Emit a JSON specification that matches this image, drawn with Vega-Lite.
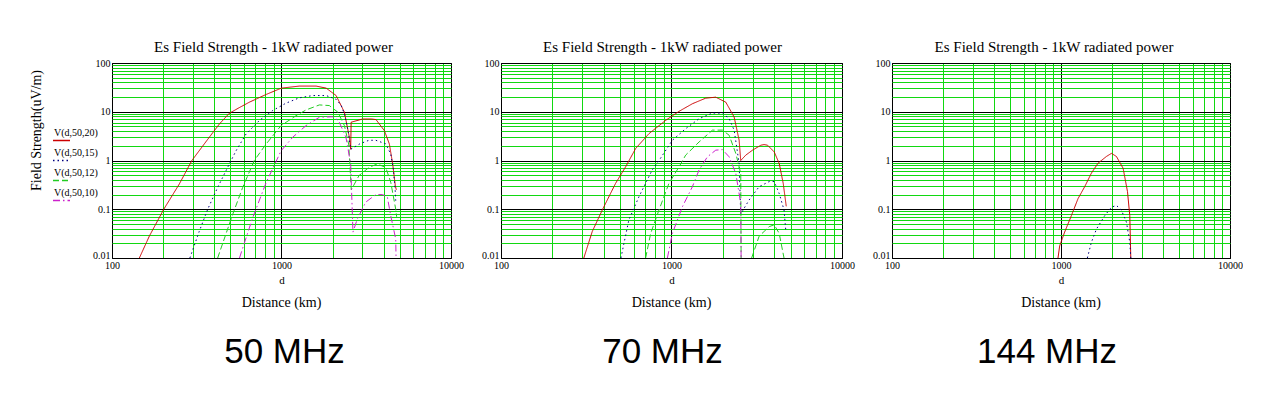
{
  "$schema": "https://vega.github.io/schema/vega-lite/v6.json",
  "background": "white",
  "autosize": "pad",
  "padding": {"left": 28, "top": 39, "right": 0, "bottom": 0},
  "datasets": {
    "p50": [
      {"h":20,"lobe":1,"d":145,"v":0.01},{"h":20,"lobe":1,"d":166,"v":0.028},{"h":20,"lobe":1,"d":202,"v":0.1},{"h":20,"lobe":1,"d":249,"v":0.325},{"h":20,"lobe":1,"d":296,"v":1.0},{"h":20,"lobe":1,"d":375,"v":3.0},{"h":20,"lobe":1,"d":430,"v":5.6},{"h":20,"lobe":1,"d":492,"v":9.3},{"h":20,"lobe":1,"d":560,"v":12},{"h":20,"lobe":1,"d":646,"v":15.7},{"h":20,"lobe":1,"d":811,"v":22.6},{"h":20,"lobe":1,"d":998,"v":30.5},{"h":20,"lobe":1,"d":1273,"v":33.6},{"h":20,"lobe":1,"d":1600,"v":33.6},{"h":20,"lobe":1,"d":1835,"v":30.5},{"h":20,"lobe":1,"d":2100,"v":21.5},{"h":20,"lobe":1,"d":2350,"v":9.8},{"h":20,"lobe":1,"d":2513,"v":3.0},{"h":20,"lobe":1,"d":2560,"v":1.7},{"h":20,"lobe":1,"d":2575,"v":6.1},{"h":20,"lobe":1,"d":3012,"v":7.1},{"h":20,"lobe":1,"d":3400,"v":7.1},{"h":20,"lobe":1,"d":3611,"v":6.9},{"h":20,"lobe":1,"d":4045,"v":4.1},{"h":20,"lobe":1,"d":4330,"v":2.17},{"h":20,"lobe":1,"d":4530,"v":0.84},{"h":20,"lobe":1,"d":4695,"v":0.3},{"h":20,"lobe":1,"d":4760,"v":0.25},
      {"h":15,"lobe":1,"d":288,"v":0.01},{"h":15,"lobe":1,"d":327,"v":0.035},{"h":15,"lobe":1,"d":367,"v":0.1},{"h":15,"lobe":1,"d":420,"v":0.28},{"h":15,"lobe":1,"d":481,"v":0.72},{"h":15,"lobe":1,"d":539,"v":1.58},{"h":15,"lobe":1,"d":618,"v":3.5},{"h":15,"lobe":1,"d":740,"v":6.6},{"h":15,"lobe":1,"d":887,"v":10.6},{"h":15,"lobe":1,"d":1063,"v":15},{"h":15,"lobe":1,"d":1274,"v":19.3},{"h":15,"lobe":1,"d":1528,"v":21.5},{"h":15,"lobe":1,"d":1835,"v":21.5},{"h":15,"lobe":1,"d":2100,"v":18},{"h":15,"lobe":1,"d":2250,"v":13.5},{"h":15,"lobe":1,"d":2350,"v":9},{"h":15,"lobe":1,"d":2470,"v":4.1},{"h":15,"lobe":1,"d":2560,"v":1.7},{"h":15,"lobe":1,"d":2630,"v":1.8},{"h":15,"lobe":1,"d":2900,"v":2.2},{"h":15,"lobe":1,"d":3280,"v":2.6},{"h":15,"lobe":1,"d":3600,"v":2.6},{"h":15,"lobe":1,"d":4120,"v":2.2},{"h":15,"lobe":1,"d":4410,"v":1.36},{"h":15,"lobe":1,"d":4570,"v":0.67},{"h":15,"lobe":1,"d":4680,"v":0.26},{"h":15,"lobe":1,"d":4720,"v":0.15},
      {"h":12,"lobe":1,"d":420,"v":0.01},{"h":12,"lobe":1,"d":515,"v":0.078},{"h":12,"lobe":1,"d":590,"v":0.28},{"h":12,"lobe":1,"d":691,"v":1.0},{"h":12,"lobe":1,"d":811,"v":2.17},{"h":12,"lobe":1,"d":994,"v":5.2},{"h":12,"lobe":1,"d":1218,"v":8.3},{"h":12,"lobe":1,"d":1396,"v":10.9},{"h":12,"lobe":1,"d":1673,"v":13.8},{"h":12,"lobe":1,"d":1915,"v":13.4},{"h":12,"lobe":1,"d":2150,"v":9.8},{"h":12,"lobe":1,"d":2350,"v":5.2},{"h":12,"lobe":1,"d":2490,"v":2.17},{"h":12,"lobe":1,"d":2525,"v":1.0},{"h":12,"lobe":1,"d":2580,"v":0.25},{"h":12,"lobe":1,"d":2866,"v":0.49},{"h":12,"lobe":1,"d":3281,"v":0.72},{"h":12,"lobe":1,"d":3673,"v":0.85},{"h":12,"lobe":1,"d":4120,"v":0.72},{"h":12,"lobe":1,"d":4410,"v":0.36},{"h":12,"lobe":1,"d":4720,"v":0.1},{"h":12,"lobe":1,"d":4780,"v":0.07},
      {"h":10,"lobe":1,"d":565,"v":0.01},{"h":10,"lobe":1,"d":676,"v":0.067},{"h":10,"lobe":1,"d":811,"v":0.35},{"h":10,"lobe":1,"d":994,"v":1.58},{"h":10,"lobe":1,"d":1164,"v":3.0},{"h":10,"lobe":1,"d":1396,"v":5.2},{"h":10,"lobe":1,"d":1673,"v":7.7},{"h":10,"lobe":1,"d":1995,"v":7.9},{"h":10,"lobe":1,"d":2170,"v":6.6},{"h":10,"lobe":1,"d":2400,"v":3.0},{"h":10,"lobe":1,"d":2560,"v":0.84},{"h":10,"lobe":1,"d":2640,"v":0.034},{"h":10,"lobe":1,"d":2800,"v":0.063},{"h":10,"lobe":1,"d":3140,"v":0.14},{"h":10,"lobe":1,"d":3600,"v":0.2},{"h":10,"lobe":1,"d":3940,"v":0.2},{"h":10,"lobe":1,"d":4210,"v":0.18},{"h":10,"lobe":1,"d":4410,"v":0.074},{"h":10,"lobe":1,"d":4720,"v":0.0245},{"h":10,"lobe":1,"d":4740,"v":0.01}
    ],
    "p70": [
      {"h":20,"lobe":1,"d":306,"v":0.01},{"h":20,"lobe":1,"d":343,"v":0.035},{"h":20,"lobe":1,"d":393,"v":0.097},{"h":20,"lobe":1,"d":470,"v":0.34},{"h":20,"lobe":1,"d":538,"v":0.74},{"h":20,"lobe":1,"d":616,"v":1.76},{"h":20,"lobe":1,"d":738,"v":3.56},{"h":20,"lobe":1,"d":924,"v":6.65},{"h":20,"lobe":1,"d":1107,"v":10.2},{"h":20,"lobe":1,"d":1326,"v":14.6},{"h":20,"lobe":1,"d":1587,"v":19},{"h":20,"lobe":1,"d":1818,"v":19.9},{"h":20,"lobe":1,"d":2082,"v":15.7},{"h":20,"lobe":1,"d":2330,"v":7.8},{"h":20,"lobe":1,"d":2493,"v":2.6},{"h":20,"lobe":1,"d":2547,"v":1.0},{"h":20,"lobe":1,"d":2728,"v":1.29},{"h":20,"lobe":1,"d":2987,"v":1.63},{"h":20,"lobe":1,"d":3344,"v":2.06},{"h":20,"lobe":1,"d":3490,"v":2.12},{"h":20,"lobe":1,"d":3659,"v":2.06},{"h":20,"lobe":1,"d":4003,"v":1.5},{"h":20,"lobe":1,"d":4282,"v":0.87},{"h":20,"lobe":1,"d":4521,"v":0.34},{"h":20,"lobe":1,"d":4688,"v":0.13},{"h":20,"lobe":1,"d":4710,"v":0.115},
      {"h":15,"lobe":1,"d":505,"v":0.01},{"h":15,"lobe":1,"d":562,"v":0.06},{"h":15,"lobe":1,"d":644,"v":0.18},{"h":15,"lobe":1,"d":771,"v":0.64},{"h":15,"lobe":1,"d":845,"v":1.0},{"h":15,"lobe":1,"d":1012,"v":2.6},{"h":15,"lobe":1,"d":1211,"v":4.5},{"h":15,"lobe":1,"d":1451,"v":7.2},{"h":15,"lobe":1,"d":1739,"v":9.4},{"h":15,"lobe":1,"d":1990,"v":9.4},{"h":15,"lobe":1,"d":2178,"v":7.2},{"h":15,"lobe":1,"d":2330,"v":4.2},{"h":15,"lobe":1,"d":2493,"v":0.87},{"h":15,"lobe":1,"d":2547,"v":0.08},{"h":15,"lobe":1,"d":2852,"v":0.155},{"h":15,"lobe":1,"d":3266,"v":0.29},{"h":15,"lobe":1,"d":3741,"v":0.37},{"h":15,"lobe":1,"d":4003,"v":0.37},{"h":15,"lobe":1,"d":4282,"v":0.21},{"h":15,"lobe":1,"d":4570,"v":0.097},{"h":15,"lobe":1,"d":4680,"v":0.037},
      {"h":12,"lobe":1,"d":705,"v":0.01},{"h":12,"lobe":1,"d":755,"v":0.032},{"h":12,"lobe":1,"d":845,"v":0.097},{"h":12,"lobe":1,"d":966,"v":0.34},{"h":12,"lobe":1,"d":1107,"v":0.74},{"h":12,"lobe":1,"d":1211,"v":1.29},{"h":12,"lobe":1,"d":1451,"v":2.4},{"h":12,"lobe":1,"d":1739,"v":4.2},{"h":12,"lobe":1,"d":1990,"v":4.2},{"h":12,"lobe":1,"d":2178,"v":3.3},{"h":12,"lobe":1,"d":2384,"v":1.39},{"h":12,"lobe":1,"d":2548,"v":0.54},{"h":12,"lobe":1,"d":2560,"v":0.01},
      {"h":12,"lobe":2,"d":2951,"v":0.01},{"h":12,"lobe":2,"d":3266,"v":0.028},{"h":12,"lobe":2,"d":3741,"v":0.044},{"h":12,"lobe":2,"d":4003,"v":0.048},{"h":12,"lobe":2,"d":4282,"v":0.032},{"h":12,"lobe":2,"d":4570,"v":0.01},
      {"h":10,"lobe":1,"d":946,"v":0.01},{"h":10,"lobe":1,"d":1012,"v":0.032},{"h":10,"lobe":1,"d":1159,"v":0.113},{"h":10,"lobe":1,"d":1326,"v":0.29},{"h":10,"lobe":1,"d":1451,"v":0.64},{"h":10,"lobe":1,"d":1624,"v":1.19},{"h":10,"lobe":1,"d":1818,"v":1.63},{"h":10,"lobe":1,"d":1990,"v":1.67},{"h":10,"lobe":1,"d":2178,"v":1.19},{"h":10,"lobe":1,"d":2384,"v":0.54},{"h":10,"lobe":1,"d":2548,"v":0.13},{"h":10,"lobe":1,"d":2560,"v":0.01}
    ],
    "p144": [
      {"h":20,"lobe":1,"d":960,"v":0.01},{"h":20,"lobe":1,"d":982,"v":0.0177},{"h":20,"lobe":1,"d":1051,"v":0.034},{"h":20,"lobe":1,"d":1152,"v":0.074},{"h":20,"lobe":1,"d":1261,"v":0.165},{"h":20,"lobe":1,"d":1381,"v":0.29},{"h":20,"lobe":1,"d":1513,"v":0.55},{"h":20,"lobe":1,"d":1656,"v":0.88},{"h":20,"lobe":1,"d":1857,"v":1.21},{"h":20,"lobe":1,"d":1988,"v":1.4},{"h":20,"lobe":1,"d":2128,"v":1.21},{"h":20,"lobe":1,"d":2332,"v":0.69},{"h":20,"lobe":1,"d":2474,"v":0.23},{"h":20,"lobe":1,"d":2553,"v":0.074},{"h":20,"lobe":1,"d":2588,"v":0.01},
      {"h":15,"lobe":1,"d":1432,"v":0.01},{"h":15,"lobe":1,"d":1513,"v":0.021},{"h":15,"lobe":1,"d":1620,"v":0.039},{"h":15,"lobe":1,"d":1815,"v":0.074},{"h":15,"lobe":1,"d":1988,"v":0.11},{"h":15,"lobe":1,"d":2128,"v":0.12},{"h":15,"lobe":1,"d":2280,"v":0.095},{"h":15,"lobe":1,"d":2440,"v":0.054},{"h":15,"lobe":1,"d":2553,"v":0.021},{"h":15,"lobe":1,"d":2588,"v":0.01}
    ]
  },
  "vconcat": [
    {
      "hconcat": [
        {
          "width": 339, "height": 195,
          "data": {"name": "p50"},
          "title": {"text": "Es Field Strength - 1kW radiated power", "dx": -8},
          "mark": {"type": "line", "strokeWidth": 1, "clip": true},
          "encoding": {
            "x": {"field": "d", "type": "quantitative", "scale": {"type": "log", "domain": [100, 10000], "nice": false},
              "axis": {"title": "d", "values": [100,200,300,400,500,600,700,800,900,1000,2000,3000,4000,5000,6000,7000,8000,9000,10000],
                "labelExpr": "indexof([100,1000,10000], datum.value) >= 0 ? format(datum.value, 'd') : ''",
                "gridColor": {"condition": {"test": "indexof([100,1000,10000], datum.value) >= 0", "value": "black"}, "value": "#11d811"}}},
            "y": {"field": "v", "type": "quantitative", "scale": {"type": "log", "domain": [0.01, 100], "nice": false},
              "axis": {"title": "Field Strength(uV/m)", "titleX": -76, "titleY": 67, "titleBaseline": "middle", "titleAlign": "center", "titleAngle": 270, "titleFontSize": 14,
                "values": [0.01,0.02,0.03,0.04,0.05,0.06,0.07,0.08,0.09,0.1,0.2,0.3,0.4,0.5,0.6,0.7,0.8,0.9,1,2,3,4,5,6,7,8,9,10,20,30,40,50,60,70,80,90,100],
                "labelExpr": "indexof([0.01,0.1,1,10,100], datum.value) >= 0 ? format(datum.value, '~g') : ''",
                "gridColor": {"condition": {"test": "indexof([0.01,0.1,1,10,100], datum.value) >= 0", "value": "black"}, "value": "#11d811"}}},
            "color": {"field": "h", "type": "nominal", "scale": {"domain": [20,15,12,10], "range": ["#cc0000", "#000080", "#22cc22", "#cc22cc"]},
              "legend": {"orient": "none", "legendX": -60, "legendY": 68, "title": null, "symbolType": "stroke", "symbolSize": 289, "symbolStrokeWidth": 1.3,
                "labelFont": "Liberation Serif", "labelFontSize": 10, "labelColor": "black", "labelOffset": -17, "rowPadding": 3,
                "labelExpr": "'V(d,50,' + datum.label + ')'",
                "encode": {"labels": {"update": {"dy": {"value": -8}}}}}},
            "strokeDash": {"field": "h", "type": "nominal", "scale": {"domain": [20,15,12,10], "range": [[1,0],[1.5,3],[6,3],[7,3,1.5,3]]}},
            "detail": {"field": "lobe", "type": "nominal"}
          }
        },
        {
          "width": 341, "height": 195,
          "data": {"name": "p70"},
          "title": {"text": "Es Field Strength - 1kW radiated power", "dx": -9},
          "mark": {"type": "line", "strokeWidth": 1, "clip": true},
          "encoding": {
            "x": {"field": "d", "type": "quantitative", "scale": {"type": "log", "domain": [100, 10000], "nice": false},
              "axis": {"title": "d", "values": [100,200,300,400,500,600,700,800,900,1000,2000,3000,4000,5000,6000,7000,8000,9000,10000],
                "labelExpr": "indexof([100,1000,10000], datum.value) >= 0 ? format(datum.value, 'd') : ''",
                "gridColor": {"condition": {"test": "indexof([100,1000,10000], datum.value) >= 0", "value": "black"}, "value": "#11d811"}}},
            "y": {"field": "v", "type": "quantitative", "scale": {"type": "log", "domain": [0.01, 100], "nice": false},
              "axis": {"title": null,
                "values": [0.01,0.02,0.03,0.04,0.05,0.06,0.07,0.08,0.09,0.1,0.2,0.3,0.4,0.5,0.6,0.7,0.8,0.9,1,2,3,4,5,6,7,8,9,10,20,30,40,50,60,70,80,90,100],
                "labelExpr": "indexof([0.01,0.1,1,10,100], datum.value) >= 0 ? format(datum.value, '~g') : ''",
                "gridColor": {"condition": {"test": "indexof([0.01,0.1,1,10,100], datum.value) >= 0", "value": "black"}, "value": "#11d811"}}},
            "color": {"field": "h", "type": "nominal", "scale": {"domain": [20,15,12,10], "range": ["#cc0000", "#000080", "#22cc22", "#cc22cc"]}, "legend": null},
            "strokeDash": {"field": "h", "type": "nominal", "scale": {"domain": [20,15,12,10], "range": [[1,0],[1.5,3],[6,3],[7,3,1.5,3]]}, "legend": null},
            "detail": {"field": "lobe", "type": "nominal"}
          }
        },
        {
          "width": 338, "height": 195,
          "data": {"name": "p144"},
          "title": {"text": "Es Field Strength - 1kW radiated power", "dx": -7},
          "mark": {"type": "line", "strokeWidth": 1, "clip": true},
          "encoding": {
            "x": {"field": "d", "type": "quantitative", "scale": {"type": "log", "domain": [100, 10000], "nice": false},
              "axis": {"title": "d", "values": [100,200,300,400,500,600,700,800,900,1000,2000,3000,4000,5000,6000,7000,8000,9000,10000],
                "labelExpr": "indexof([100,1000,10000], datum.value) >= 0 ? format(datum.value, 'd') : ''",
                "gridColor": {"condition": {"test": "indexof([100,1000,10000], datum.value) >= 0", "value": "black"}, "value": "#11d811"}}},
            "y": {"field": "v", "type": "quantitative", "scale": {"type": "log", "domain": [0.01, 100], "nice": false},
              "axis": {"title": null,
                "values": [0.01,0.02,0.03,0.04,0.05,0.06,0.07,0.08,0.09,0.1,0.2,0.3,0.4,0.5,0.6,0.7,0.8,0.9,1,2,3,4,5,6,7,8,9,10,20,30,40,50,60,70,80,90,100],
                "labelExpr": "indexof([0.01,0.1,1,10,100], datum.value) >= 0 ? format(datum.value, '~g') : ''",
                "gridColor": {"condition": {"test": "indexof([0.01,0.1,1,10,100], datum.value) >= 0", "value": "black"}, "value": "#11d811"}}},
            "color": {"field": "h", "type": "nominal", "scale": {"domain": [20,15,12,10], "range": ["#cc0000", "#000080", "#22cc22", "#cc22cc"]}, "legend": null},
            "strokeDash": {"field": "h", "type": "nominal", "scale": {"domain": [20,15,12,10], "range": [[1,0],[1.5,3],[6,3],[7,3,1.5,3]]}, "legend": null},
            "detail": {"field": "lobe", "type": "nominal"}
          }
        }
      ],
      "spacing": 50,
      "bounds": "flush",
      "resolve": {"scale": {"color": "independent", "strokeDash": "independent"}}
    },
    {
      "hconcat": [
        {"width": 339, "height": 50, "view": {"stroke": null}, "data": {"values": [{"label": "50 MHz"}]},
         "title": {"text": "Distance (km)", "fontSize": 14, "baseline": "middle", "offset": 10},
         "mark": {"type": "text", "font": "Liberation Sans", "fontSize": 35, "dx": 3, "color": "black"},
         "encoding": {"text": {"field": "label", "type": "nominal"}}},
        {"width": 341, "height": 50, "view": {"stroke": null}, "data": {"values": [{"label": "70 MHz"}]},
         "title": {"text": "Distance (km)", "fontSize": 14, "baseline": "middle", "offset": 10},
         "mark": {"type": "text", "font": "Liberation Sans", "fontSize": 35, "dx": -9, "color": "black"},
         "encoding": {"text": {"field": "label", "type": "nominal"}}},
        {"width": 338, "height": 50, "view": {"stroke": null}, "data": {"values": [{"label": "144 MHz"}]},
         "title": {"text": "Distance (km)", "fontSize": 14, "baseline": "middle", "offset": 10},
         "mark": {"type": "text", "font": "Liberation Sans", "fontSize": 35, "dx": -14, "color": "black"},
         "encoding": {"text": {"field": "label", "type": "nominal"}}}
      ],
      "spacing": 50,
      "bounds": "flush"
    }
  ],
  "spacing": 10,
  "config": {
    "view": {"stroke": "black", "strokeWidth": 1},
    "title": {"font": "Liberation Serif", "fontSize": 15, "fontWeight": "normal", "color": "black", "offset": 3, "anchor": "middle"},
    "axis": {"labelFont": "Liberation Serif", "labelFontSize": 10, "labelColor": "black", "titleFont": "Liberation Serif", "titleFontSize": 11, "titleFontWeight": "normal", "titleColor": "black",
      "ticks": false, "domain": false, "grid": true, "gridWidth": 1, "gridOpacity": 1, "labelOverlap": false, "labelFlush": false, "labelPadding": 2, "titlePadding": 4},
    "axisY": {"labelBaseline": {"condition": {"test": "datum.value == 0.01", "value": "alphabetic"}, "value": "middle"}}
  }
}
